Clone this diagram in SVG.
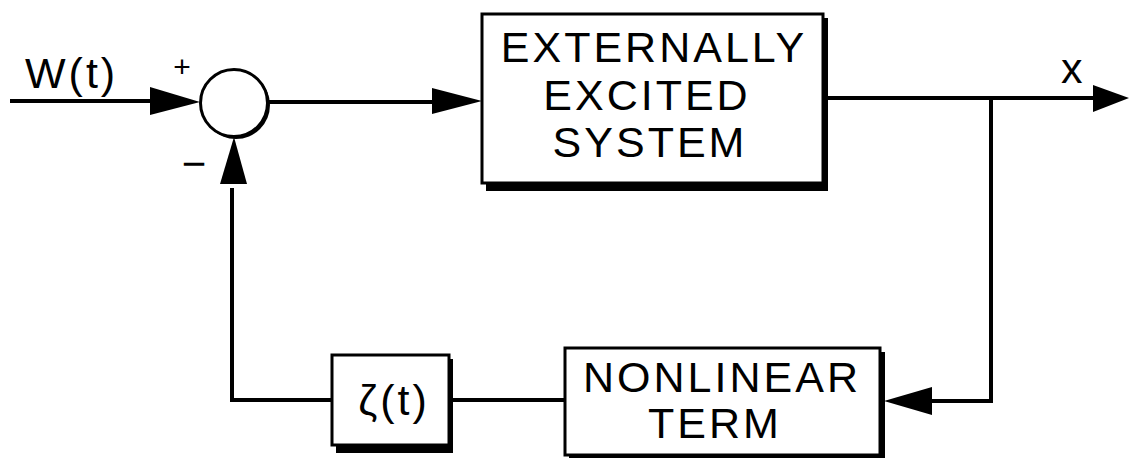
<svg xmlns="http://www.w3.org/2000/svg" width="1130" height="458" viewBox="0 0 1130 458">
  <style>
    .wire { fill: none; stroke: #000; stroke-width: 4; stroke-linejoin: miter; stroke-linecap: square; }
    .box { fill: #fff; stroke: #000; stroke-width: 3; }
    .shadow { fill: #000; }
    .lbl { font-family: "Liberation Sans", Arial, sans-serif; font-size: 43px; fill: #000; letter-spacing: 3px; }
    .sign { font-family: "Liberation Sans", Arial, sans-serif; fill: #000; }
    .head { fill: #000; }
  </style>

  <rect width="1130" height="458" fill="#fff"/>

  <!-- connectors -->
  <g id="connectors">
    <!-- input W(t) into summing junction -->
    <line class="wire" x1="12" y1="101" x2="160" y2="101"/>
    <polygon class="head" points="150,87 200,102 150,115"/>
    <!-- summing junction to system -->
    <line class="wire" x1="269" y1="102" x2="440" y2="102"/>
    <polygon class="head" points="432,88 482,101 432,114"/>
    <!-- system output x -->
    <line class="wire" x1="826" y1="98" x2="1100" y2="98"/>
    <polygon class="head" points="1093,85 1129,98 1093,112"/>
    <!-- feedback branch down to nonlinear term -->
    <polyline class="wire" points="991,98 991,401 925,401"/>
    <polygon class="head" points="932,387 884,401 932,415"/>
    <!-- nonlinear term to zeta -->
    <line class="wire" x1="449" y1="400" x2="565" y2="400"/>
    <!-- zeta back up to summing junction -->
    <polyline class="wire" points="332,400 232,400 232,190"/>
    <polygon class="head" points="220,184 234,137 247,184"/>
  </g>

  <!-- summing junction -->
  <g id="sum">
    <circle cx="236" cy="105" r="34" fill="#000"/>
    <circle cx="234" cy="103" r="33.5" fill="#fff" stroke="#000" stroke-width="3"/>
    <text class="sign" x="182" y="77" text-anchor="middle" font-size="30">+</text>
    <text class="sign" x="194" y="178" text-anchor="middle" font-size="42">−</text>
  </g>

  <!-- input label -->
  <g id="input">
    <text class="lbl" x="25" y="88">W(t)</text>
  </g>

  <!-- output label -->
  <g id="output">
    <text class="lbl" x="1061" y="83">x</text>
  </g>

  <!-- externally excited system -->
  <g id="system">
    <rect class="shadow" x="486" y="18" width="342" height="173"/>
    <rect class="box" x="482" y="14" width="341" height="169"/>
    <text class="lbl" x="654" y="62" text-anchor="middle">EXTERNALLY</text>
    <text class="lbl" x="647" y="110" text-anchor="middle">EXCITED</text>
    <text class="lbl" x="650" y="157" text-anchor="middle">SYSTEM</text>
  </g>

  <!-- nonlinear term -->
  <g id="nonlinear">
    <rect class="shadow" x="569" y="352" width="316" height="107"/>
    <rect class="box" x="565" y="348" width="315" height="107"/>
    <text class="lbl" x="722" y="392" text-anchor="middle">NONLINEAR</text>
    <text class="lbl" x="715" y="438" text-anchor="middle">TERM</text>
  </g>

  <!-- zeta(t) -->
  <g id="zeta">
    <rect class="shadow" x="336" y="359" width="117" height="94"/>
    <rect class="box" x="332" y="355" width="117" height="90"/>
    <text class="lbl" x="394" y="415" text-anchor="middle">ζ(t)</text>
  </g>
</svg>
